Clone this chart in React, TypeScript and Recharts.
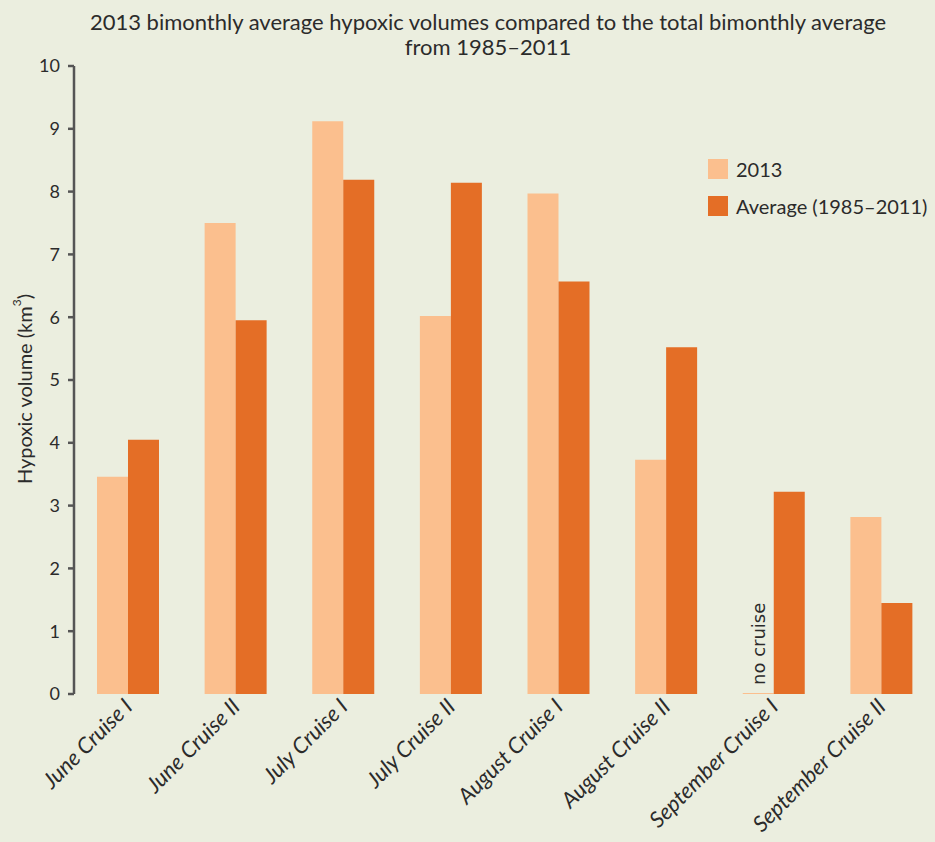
import { BarChart, Bar, XAxis, YAxis, Legend, LabelList } from "recharts";

const categories = [
	"June Cruise I",
	"June Cruise II",
	"July Cruise I",
	"July Cruise II",
	"August Cruise I",
	"August Cruise II",
	"September Cruise I",
	"September Cruise II",
];
const values2013 = [3.46, 7.5, 9.12, 6.02, 7.97, 3.73, 0, 2.82];
const valuesAverage = [4.05, 5.95, 8.19, 8.14, 6.57, 5.52, 3.22, 1.45];
const notes = ["", "", "", "", "", "", "no cruise", ""];
const yTicks = [0, 1, 2, 3, 4, 5, 6, 7, 8, 9, 10];
const boundaryTicks = [0, 1, 2, 3, 4, 5, 6, 7, 8];

const data = categories.map((name, i) => ({
	name,
	y2013: values2013[i],
	average: valuesAverage[i],
	note: notes[i],
}));

const BG = "#ebeedf";
const LIGHT = "#fbbf8e";
const DARK = "#e46e26";
const AXIS = "#555555";
const TEXT = "#2b2b2b";
const FONT = "Lato, 'Open Sans', sans-serif";

function CategoryTick(props: any) {
	const { x, y, payload } = props;
	return (
		<g transform={`translate(${x + 6},${y + 6})`}>
			<text
				transform="rotate(-45)"
				textAnchor="end"
				fontFamily={FONT}
				fontStyle="italic"
				fontSize={22}
				fill={TEXT}
			>
				{payload.value}
			</text>
		</g>
	);
}

function NoteLabel(props: any) {
	const vb = props.viewBox || {};
	const x = props.x ?? vb.x;
	const y = props.y ?? vb.y;
	const width = props.width ?? vb.width ?? 0;
	const height = props.height ?? vb.height ?? 0;
	const { value } = props;
	if (!value || x == null || y == null) return null;
	const cx = x + width / 2;
	const cy = y + height - 9;
	return (
		<text
			x={cx}
			y={cy}
			transform={`rotate(-90, ${cx}, ${cy})`}
			textAnchor="start"
			dominantBaseline="central"
			fontFamily="'DejaVu Sans', sans-serif"
			fontSize={18}
			fill={TEXT}
		>
			{value}
		</text>
	);
}

function YLabel(props: any) {
	const { viewBox } = props;
	const cx = viewBox.x + 24;
	const cy = viewBox.y + viewBox.height / 2 + 9;
	return (
		<text
			x={cx}
			y={cy}
			transform={`rotate(-90, ${cx}, ${cy})`}
			textAnchor="middle"
			dominantBaseline="central"
			fontFamily={FONT}
			fontSize={20}
			fill={TEXT}
		>
			Hypoxic volume (km
			<tspan fontSize={12} dy={-8}>
				3
			</tspan>
			<tspan dy={8}>)</tspan>
		</text>
	);
}

function LegendBox(props: any) {
	const { payload } = props;
	return (
		<div style={{ fontFamily: FONT, fontSize: 20, color: TEXT }}>
			{payload.map((item: any) => (
				<div
					key={item.value}
					style={{ display: "flex", alignItems: "center", height: 37 }}
				>
					<span
						style={{
							display: "inline-block",
							width: 20,
							height: 20,
							background: item.color,
							marginRight: 8,
						}}
					/>
					<span>{item.value}</span>
				</div>
			))}
		</div>
	);
}

export default function App() {
	return (
		<div
			style={{
				position: "absolute",
				left: 0,
				top: 0,
				width: 935,
				height: 842,
				background: BG,
				overflow: "hidden",
			}}
		>
			<div
				style={{
					position: "absolute",
					left: 0,
					top: 9,
					width: 976,
					textAlign: "center",
					fontFamily: FONT,
					fontSize: 22,
					lineHeight: "25px",
					color: TEXT,
				}}
			>
				2013 bimonthly average hypoxic volumes compared to the total bimonthly average
				<br />
				from 1985–2011
			</div>
			<BarChart
				width={935}
				height={842}
				data={data}
				margin={{ top: 66, right: 0, bottom: 0, left: 0 }}
				barCategoryGap={23}
				barGap={0}
			>
				<XAxis
					xAxisId="bounds"
					type="number"
					domain={[0, 8]}
					ticks={boundaryTicks}
					height={0}
					tick={false}
					tickSize={7}
					stroke={AXIS}
					strokeWidth={2.5}
				/>
				<XAxis
					xAxisId="cats"
					dataKey="name"
					height={148}
					interval={0}
					axisLine={false}
					tickLine={false}
					tick={<CategoryTick />}
				/>
				<YAxis
					width={74}
					domain={[0, 10]}
					ticks={yTicks}
					interval={0}
					tickSize={6}
					tickMargin={8}
					stroke={AXIS}
					strokeWidth={2.5}
					tick={{ fill: TEXT, fontSize: 18, fontFamily: FONT }}
					label={<YLabel />}
				/>
				<Legend
					verticalAlign="middle"
					align="center"
					layout="vertical"
					content={<LegendBox />}
					wrapperStyle={{ left: 708, top: 150, width: 230 }}
				/>
				<Bar
					xAxisId="cats"
					dataKey="y2013"
					name="2013"
					fill={LIGHT}
					minPointSize={1}
					isAnimationActive={false}
				>
					<LabelList
						dataKey="note"
						content={(p: any) => <NoteLabel {...p} />}
					/>
				</Bar>
				<Bar
					xAxisId="cats"
					dataKey="average"
					name="Average (1985–2011)"
					fill={DARK}
					isAnimationActive={false}
				/>
			</BarChart>
		</div>
	);
}
